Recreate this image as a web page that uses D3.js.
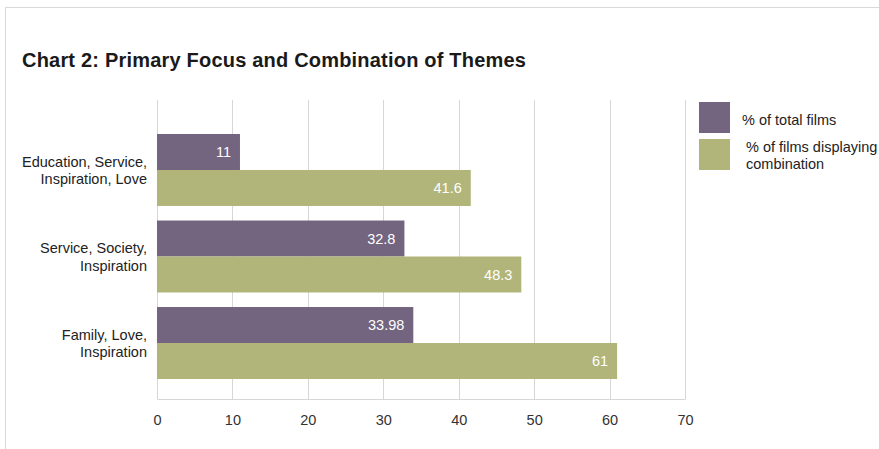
<!DOCTYPE html>
<html>
<head>
<meta charset="utf-8">
<script src="https://cdn.jsdelivr.net/npm/d3@7"></script>
<style>
  body { margin: 0; background: #fff; }
  text { font-family: "Liberation Sans", Arial, sans-serif; }
</style>
</head>
<body>
<div id="chart"></div>
<script>
// datos del gráfico
const categories = [
    ["Education, Service,", "Inspiration, Love"],
    ["Service, Society,", "Inspiration"],
    ["Family, Love,", "Inspiration"]
];
const totalFilms = [11, 32.8, 33.98];
const combination = [41.6, 48.3, 61];
const seriesNames = ["% of total films", "% of films displaying combination"];
const xTicks = [0, 10, 20, 30, 40, 50, 60, 70];

const width = 879;
const height = 449;
const colors = ["#73647f", "#b1b57a"];
const fontSize = "14.5px";

const svg = d3.select("#chart").append("svg")
    .attr("width", width)
    .attr("height", height);

// marco de la página
svg.append("line")
    .attr("x1", 5).attr("x2", width).attr("y1", 7.5).attr("y2", 7.5)
    .attr("stroke", "#d9d9d9");
svg.append("line")
    .attr("x1", 5.5).attr("x2", 5.5).attr("y1", 7).attr("y2", height)
    .attr("stroke", "#d9d9d9");

// título
svg.append("text")
    .attr("x", 22)
    .attr("y", 67)
    .attr("font-size", "20px")
    .attr("font-weight", "bold")
    .attr("letter-spacing", "0.2px")
    .attr("fill", "#1a1a1a")
    .text("Chart 2: Primary Focus and Combination of Themes");

const plot = { left: 157, right: 685, top: 100, bottom: 399 };

const xScale = d3.scaleLinear()
    .domain([0, 70])
    .range([plot.left, plot.right]);

const yScale = d3.scaleBand()
    .domain(d3.range(categories.length))
    .range([134, 379])
    .paddingInner(0.168)
    .paddingOuter(0);

const sub = d3.scaleBand()
    .domain([0, 1])
    .range([0, yScale.bandwidth()]);

// líneas de cuadrícula
svg.append("g")
    .selectAll("line")
    .data(xTicks)
    .enter().append("line")
    .attr("x1", d => Math.round(xScale(d)) + 0.5)
    .attr("x2", d => Math.round(xScale(d)) + 0.5)
    .attr("y1", plot.top)
    .attr("y2", plot.bottom)
    .attr("stroke", "#d6d6d6");

// eje x
const xAxis = svg.append("g")
    .attr("transform", `translate(0, ${plot.bottom})`)
    .call(d3.axisBottom(xScale).tickValues(xTicks).tickSize(0).tickPadding(16));
xAxis.select(".domain").attr("stroke", "#d6d6d6");
xAxis.selectAll("text")
    .attr("font-size", fontSize)
    .attr("fill", "#333")
    .style("font-family", "Liberation Sans, Arial, sans-serif");

// barras
const groups = svg.append("g")
    .selectAll("g")
    .data(categories.map((c, i) => ({ label: c, values: [totalFilms[i], combination[i]] })))
    .enter().append("g")
    .attr("transform", (d, i) => `translate(0, ${yScale(i)})`);

groups.selectAll("rect")
    .data(d => d.values)
    .enter().append("rect")
    .attr("x", xScale(0))
    .attr("y", (d, j) => sub(j))
    .attr("width", d => xScale(d) - xScale(0))
    .attr("height", sub.bandwidth())
    .attr("fill", (d, j) => colors[j]);

groups.selectAll(".value")
    .data(d => d.values)
    .enter().append("text")
    .attr("class", "value")
    .attr("x", d => xScale(d) - 9)
    .attr("y", (d, j) => sub(j) + sub.bandwidth() / 2)
    .attr("dy", "0.35em")
    .attr("text-anchor", "end")
    .attr("font-size", fontSize)
    .attr("fill", "#fff")
    .text(d => d);

// etiquetas de categoría
groups.append("text")
    .attr("text-anchor", "end")
    .attr("font-size", fontSize)
    .attr("fill", "#222")
    .selectAll("tspan")
    .data(d => d.label)
    .enter().append("tspan")
    .attr("x", 147)
    .attr("y", (d, k) => yScale.bandwidth() / 2 - 8.5 + k * 17.5)
    .attr("dy", "0.35em")
    .text(d => d);

// leyenda
const legend = svg.append("g");
legend.selectAll("rect")
    .data(seriesNames)
    .enter().append("rect")
    .attr("x", 699)
    .attr("y", (d, i) => 102 + i * 37)
    .attr("width", 31)
    .attr("height", 31)
    .attr("fill", (d, i) => colors[i]);

legend.append("text")
    .attr("x", 742)
    .attr("y", 120)
    .attr("dy", "0.35em")
    .attr("font-size", fontSize)
    .attr("fill", "#222")
    .text(seriesNames[0]);

legend.append("text")
    .attr("font-size", fontSize)
    .attr("fill", "#222")
    .selectAll("tspan")
    .data(["% of films displaying", "combination"])
    .enter().append("tspan")
    .attr("x", 746)
    .attr("y", (d, k) => 147 + k * 17)
    .attr("dy", "0.35em")
    .text(d => d);
</script>
</body>
</html>
